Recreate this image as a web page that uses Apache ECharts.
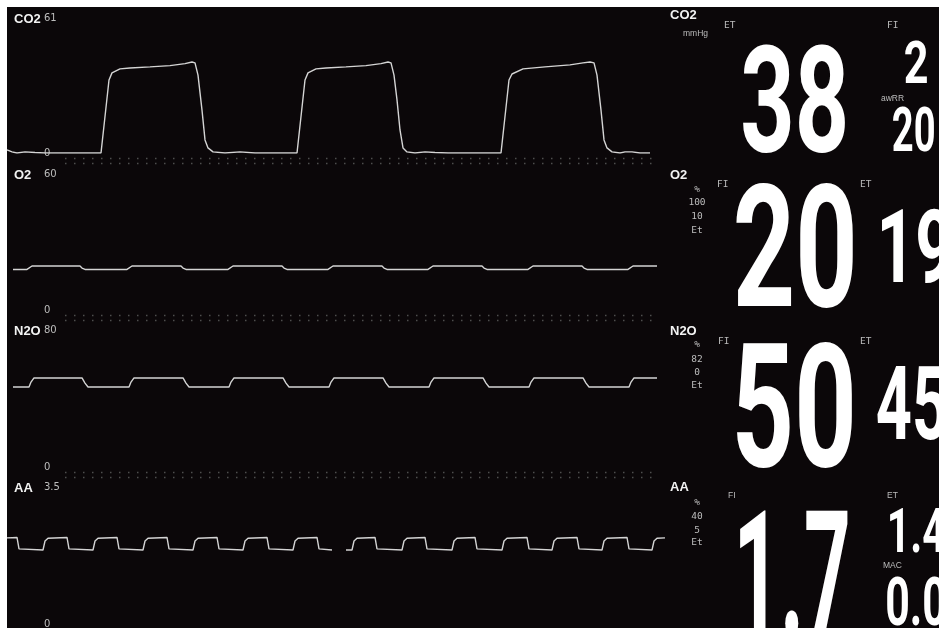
<!DOCTYPE html>
<html>
<head>
<meta charset="utf-8">
<title>Gas monitor</title>
<script src="https://cdn.jsdelivr.net/npm/echarts@6/dist/echarts.min.js"></script>
<style>
  html, body { margin: 0; padding: 0; background: #fff; }
  #chart { width: 939px; height: 628px; }
</style>
</head>
<body>
<div id="chart"></div>
<script>
  // channel names and the top of each waveform scale
  const channels = ['CO2', 'O2', 'N2O', 'AA'];
  const scaleMax = [61, 60, 80, 3.5];

  // waveforms, [sample, value]
  const co2Wave = [
    [0, 1.4], [5, 0.5], [10, 0], [18, 0.5], [28, 0.2], [38, 0], [94, 0],
    [102, 33.0], [105, 36.2], [113, 38.0], [123, 38.4], [143, 38.9], [163, 39.5], [178, 40.4], [185, 41.1], [188, 40.7],
    [191, 35.2], [195, 19.4], [198, 5.9], [201, 2.3], [206, 0.5], [218, 0], [233, 0.5], [248, 0], [290, 0],
    [298, 33.0], [301, 36.2], [309, 38.0], [319, 38.4], [339, 38.9], [359, 39.5], [374, 40.4], [381, 41.1], [384, 40.7],
    [387, 35.2], [390, 24.0], [393, 10.4], [396, 2.3], [400, 0.5], [408, 0], [418, 0.5], [428, 0.2], [441, 0], [494, 0],
    [502, 33.0], [505, 35.7], [516, 38.0], [538, 38.9], [563, 39.8], [576, 40.7], [583, 41.1], [587, 40.7],
    [590, 35.2], [594, 19.4], [597, 5.9], [600, 2.3], [605, 0.5], [613, 0], [618, 0.5], [625, 0.5], [633, 0], [643, 0]
  ];
  const o2Wave = [
    [6, 17.9], [20, 17.9], [22, 18.5], [25, 19.4], [73, 19.4], [75, 18.5], [78, 17.9],
    [120, 17.9], [122, 18.5], [125, 19.4], [174, 19.4], [176, 18.5], [179, 17.9],
    [221, 17.9], [223, 18.5], [226, 19.4], [275, 19.4], [277, 18.5], [280, 17.9],
    [321, 17.9], [323, 18.5], [326, 19.4], [375, 19.4], [377, 18.5], [380, 17.9],
    [421, 17.9], [423, 18.5], [426, 19.4], [475, 19.4], [477, 18.5], [480, 17.9],
    [521, 17.9], [523, 18.5], [526, 19.4], [575, 19.4], [577, 18.5], [580, 17.9],
    [621, 17.9], [623, 18.5], [626, 19.4], [650, 19.4]
  ];
  const n2oWave = [
    [6, 46.7], [22, 46.7], [24, 49.6], [27, 52.0], [75, 52.0], [78, 49.0], [81, 46.7],
    [122, 46.7], [124, 49.6], [127, 52.0], [176, 52.0], [179, 49.0], [182, 46.7],
    [222, 46.7], [224, 49.6], [227, 52.0], [276, 52.0], [279, 49.0], [282, 46.7],
    [322, 46.7], [324, 49.6], [327, 52.0], [376, 52.0], [379, 49.0], [382, 46.7],
    [422, 46.7], [424, 49.6], [427, 52.0], [476, 52.0], [479, 49.0], [482, 46.7],
    [522, 46.7], [524, 49.6], [527, 52.0], [576, 52.0], [579, 49.0], [582, 46.7],
    [622, 46.7], [624, 49.6], [627, 52.0], [650, 52.0]
  ];
  const aaWave = [
    [0, 2.20], [10, 2.21], [12, 1.92], [14, 1.89],
    [36, 1.89], [38, 2.12], [41, 2.19], [60, 2.21], [62, 1.92], [64, 1.89],
    [86, 1.89], [88, 2.12], [91, 2.19], [110, 2.21], [112, 1.92], [114, 1.89],
    [136, 1.89], [138, 2.12], [141, 2.19], [160, 2.21], [162, 1.92], [164, 1.89],
    [186, 1.89], [188, 2.12], [191, 2.19], [210, 2.21], [212, 1.92], [214, 1.89],
    [236, 1.89], [238, 2.12], [241, 2.19], [260, 2.21], [262, 1.92], [264, 1.89],
    [286, 1.89], [288, 2.12], [291, 2.19], [310, 2.21], [312, 1.92], [314, 1.89],
    [325, 1.89], [332, '-'],
    [339, 1.89], [345, 1.89], [347, 2.12], [350, 2.19], [368, 2.21], [370, 1.92], [372, 1.89],
    [395, 1.89], [397, 2.12], [400, 2.19], [418, 2.21], [420, 1.92], [422, 1.89],
    [445, 1.89], [447, 2.12], [450, 2.19], [468, 2.21], [470, 1.92], [472, 1.89],
    [495, 1.89], [497, 2.12], [500, 2.19], [520, 2.21], [522, 1.92], [524, 1.89],
    [545, 1.89], [547, 2.12], [550, 2.19], [570, 2.21], [572, 1.92], [574, 1.89],
    [595, 1.89], [597, 2.12], [600, 2.19], [620, 2.21], [622, 1.92], [624, 1.89],
    [645, 1.89], [647, 2.12], [650, 2.19], [658, 2.20]
  ];

  // numeric readouts
  const co2Values = ['38', '2', '20'];        // ET, FI, awRR
  const o2Values = ['20', '19'];              // FI, ET
  const n2oValues = ['50', '45'];             // FI, ET
  const aaValues = ['1.7', '1.4', '0.0'];     // FI, ET, MAC
  // unit, alarm high, alarm low, source
  const co2Unit = 'mmHg';
  const o2Limits = ['%', '100', '10', 'Et'];
  const n2oLimits = ['%', '82', '0', 'Et'];
  const aaLimits = ['%', '40', '5', 'Et'];

  const waves = [co2Wave, o2Wave, n2oWave, aaWave];
  const bands = [
    { top: 18, height: 135 },
    { top: 174, height: 136 },
    { top: 330, height: 137 },
    { top: 487, height: 137 }
  ];
  const chart = echarts.init(document.getElementById('chart'));

  const measureCtx = document.createElement('canvas').getContext('2d');
  const BIG_FONT = '"Liberation Sans Narrow", "Roboto", "Liberation Sans", sans-serif';

  // big condensed number, placed by its ink box
  function bigNumber(str, left, top, h, w) {
    measureCtx.font = 'bold 100px ' + BIG_FONT;
    measureCtx.textBaseline = 'middle';
    measureCtx.textAlign = 'left';
    let m = measureCtx.measureText(str);
    let k = h / (m.actualBoundingBoxAscent + m.actualBoundingBoxDescent);
    let inkW = (m.actualBoundingBoxLeft + m.actualBoundingBoxRight) * k;
    let sx = w / inkW;
    return {
      type: 'text',
      x: left + m.actualBoundingBoxLeft * k * sx,
      y: top + m.actualBoundingBoxAscent * k,
      scaleX: sx,
      silent: true,
      style: {
        text: str,
        font: 'bold ' + (100 * k).toFixed(2) + 'px ' + BIG_FONT,
        fill: '#ffffff',
        align: 'left',
        verticalAlign: 'middle'
      }
    };
  }

  function label(str, x, y, font, color, align) {
    return {
      type: 'text',
      x: x,
      y: y,
      silent: true,
      style: {
        text: str,
        font: font,
        fill: color || '#bcbcbc',
        align: align || 'left',
        verticalAlign: 'middle'
      }
    };
  }

  function dotted(y) {
    return {
      type: 'line',
      silent: true,
      shape: { x1: 65, y1: y, x2: 656, y2: y },
      style: { stroke: '#4e4e4e', lineWidth: 1.5, lineDash: [1.5, 7.5] }
    };
  }

  const TITLE = 'bold 13px "Liberation Sans", Arial, sans-serif';
  const MONO = '9.5px "DejaVu Sans Mono", monospace';
  const SMALL = '8.5px "Liberation Sans", Arial, sans-serif';

  let graphics = [
    // white margins of the screenshot
    { type: 'rect', silent: true, shape: { x: 0, y: 0, width: 939, height: 7 }, style: { fill: '#ffffff' } },
    { type: 'rect', silent: true, shape: { x: 0, y: 0, width: 7, height: 628 }, style: { fill: '#ffffff' } },
    dotted(158.5), dotted(163.5), dotted(315.5), dotted(320.5), dotted(472.5), dotted(477.5)
  ];

  // channel names, left and right
  const leftY = [19, 175, 331, 488];
  const rightY = [15.5, 175, 331, 487];
  channels.forEach(function (name, i) {
    graphics.push(label(name, 14, leftY[i], TITLE, '#f2f2f2'));
    graphics.push(label(name, 670, rightY[i], TITLE, '#f2f2f2'));
  });

  // CO2 panel
  graphics.push(label(co2Unit, 683, 33.5, SMALL));
  graphics.push(label('ET', 724, 26, MONO));
  graphics.push(label('FI', 887, 25.5, MONO));
  graphics.push(label('awRR', 881, 99, SMALL));
  graphics.push(bigNumber(co2Values[0], 743, 43, 110, 102));
  graphics.push(bigNumber(co2Values[1], 905, 40, 43, 22));
  graphics.push(bigNumber(co2Values[2], 893, 107, 45, 41));

  // limit columns
  function limits(list, ys) {
    list.forEach(function (t, i) {
      graphics.push(label(t, 697, ys[i], MONO, '#bcbcbc', 'center'));
    });
  }
  limits(o2Limits, [190, 203, 217, 231]);
  limits(n2oLimits, [345, 360, 373, 386]);
  limits(aaLimits, [503, 517, 531, 543]);

  // O2 panel
  graphics.push(label('FI', 717, 185, MONO));
  graphics.push(label('ET', 860, 185, MONO));
  graphics.push(bigNumber(o2Values[0], 736, 182, 126, 117));
  graphics.push(bigNumber(o2Values[1], 882, 208, 75, 69));

  // N2O panel
  graphics.push(label('FI', 718, 342, MONO));
  graphics.push(label('ET', 860, 342, MONO));
  graphics.push(bigNumber(n2oValues[0], 737, 340, 128, 115));
  graphics.push(bigNumber(n2oValues[1], 877, 365, 75, 69));

  // AA panel
  graphics.push(label('FI', 728, 496, SMALL));
  graphics.push(label('ET', 887, 496, SMALL));
  graphics.push(label('MAC', 883, 566, SMALL));
  graphics.push(bigNumber(aaValues[0], 740, 509, 128, 108));
  graphics.push(bigNumber(aaValues[1], 890, 508, 45, 55));
  graphics.push(bigNumber(aaValues[2], 887, 577, 49, 58));

  chart.setOption({
    backgroundColor: '#0b0709',
    animation: false,
    grid: bands.map(function (b) {
      return { left: 7, width: 660, top: b.top, height: b.height, outerBoundsMode: 'none', containLabel: false };
    }),
    xAxis: bands.map(function (b, i) {
      return { gridIndex: i, type: 'value', min: 0, max: 660, show: false };
    }),
    yAxis: scaleMax.map(function (m, i) {
      return {
        gridIndex: i,
        type: 'value',
        min: 0,
        max: m,
        interval: m,
        axisLine: { show: false },
        axisTick: { show: false },
        splitLine: { show: false },
        axisLabel: {
          inside: true,
          margin: 37,
          color: '#bdbdbd',
          fontSize: 10,
          fontFamily: '"DejaVu Sans", sans-serif',
          padding: [0, 0, 6, 0]
        }
      };
    }),
    series: waves.map(function (w, i) {
      return {
        name: channels[i],
        type: 'line',
        xAxisIndex: i,
        yAxisIndex: i,
        data: w,
        symbol: 'none',
        silent: true,
        lineStyle: { color: '#d4d4d4', width: 1.4 }
      };
    }),
    graphic: graphics
  });
</script>
</body>
</html>
